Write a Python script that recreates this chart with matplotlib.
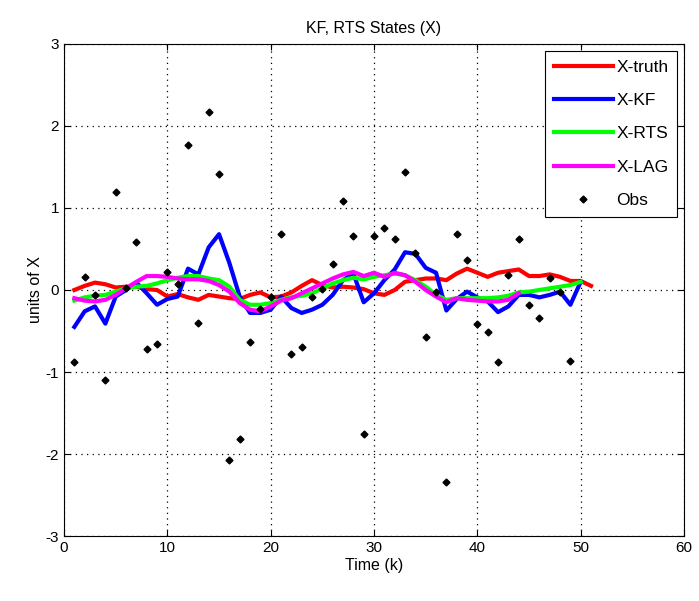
import matplotlib

matplotlib.use("Agg")
import matplotlib.pyplot as plt

plt.rcParams["font.family"] = ["Liberation Sans", "DejaVu Sans"]
plt.rcParams["axes.unicode_minus"] = False

# smoother outputs, one value per time step k = 1, 2, ...
x_truth = [0.00, 0.05, 0.09, 0.07, 0.03, 0.04, 0.04, 0.01, 0.00, -0.08,
           -0.05, -0.09, -0.12, -0.06, -0.08, -0.10, -0.11, -0.06, -0.03, -0.09,
           -0.08, -0.03, 0.05, 0.12, 0.06, 0.03, 0.04, 0.03, 0.01, -0.04,
           -0.06, 0.00, 0.10, 0.12, 0.14, 0.14, 0.12, 0.20, 0.26, 0.21,
           0.16, 0.21, 0.23, 0.25, 0.17, 0.17, 0.19, 0.16, 0.11, 0.11, 0.05]
x_kf = [-0.45, -0.26, -0.20, -0.41, -0.08, 0.00, 0.09, -0.04, -0.18, -0.11,
        -0.08, 0.26, 0.19, 0.52, 0.68, 0.33, -0.08, -0.28, -0.28, -0.24,
        -0.08, -0.22, -0.28, -0.24, -0.18, -0.06, 0.12, 0.20, -0.15, -0.04,
        0.12, 0.25, 0.46, 0.44, 0.27, 0.21, -0.25, -0.11, -0.02, -0.09,
        -0.14, -0.27, -0.20, -0.06, -0.06, -0.09, -0.06, -0.02, -0.18, 0.10]
x_rts = [-0.13, -0.09, -0.07, -0.06, -0.02, 0.02, 0.04, 0.05, 0.08, 0.12,
         0.15, 0.17, 0.17, 0.14, 0.12, 0.04, -0.12, -0.18, -0.18, -0.16,
         -0.12, -0.09, -0.07, -0.04, 0.02, 0.08, 0.12, 0.15, 0.13, 0.16,
         0.18, 0.20, 0.18, 0.12, 0.04, -0.06, -0.12, -0.10, -0.10, -0.10,
         -0.10, -0.09, -0.07, -0.03, -0.02, 0.00, 0.02, 0.04, 0.06, 0.10]
x_lag = [-0.10, -0.13, -0.14, -0.12, -0.06, 0.02, 0.10, 0.17, 0.17, 0.16,
         0.14, 0.13, 0.13, 0.11, 0.06, -0.02, -0.16, -0.24, -0.26, -0.20,
         -0.13, -0.10, -0.04, 0.02, 0.08, 0.14, 0.19, 0.22, 0.17, 0.21,
         0.16, 0.21, 0.18, 0.10, 0.00, -0.08, -0.15, -0.10, -0.12, -0.13,
         -0.14, -0.14, -0.12, -0.04]
obs = [-0.88, 0.16, -0.06, -1.10, 1.20, 0.03, 0.59, -0.72, -0.66, 0.22,
       0.07, 1.77, -0.40, 2.17, 1.41, -2.07, -1.82, -0.63, -0.23, -0.09,
       0.68, -0.78, -0.70, -0.09, 0.01, 0.32, 1.09, 0.66, -1.75, 0.66,
       0.75, 0.62, 1.44, 0.45, -0.57, -0.02, -2.34, 0.68, 0.37, -0.41,
       -0.51, -0.88, 0.18, 0.62, -0.18, -0.34, 0.15, -0.02, -0.86]


def steps(vals):
    return list(range(1, len(vals) + 1))


fig = plt.figure(figsize=(6.99, 6.01), dpi=100)
ax = fig.add_axes([0.0916, 0.108, 0.887, 0.819])

ax.plot(steps(x_truth), x_truth, color="#ff0000", lw=3, label="X-truth")
ax.plot(steps(x_kf), x_kf, color="#0000ff", lw=3, label="X-KF")
ax.plot(steps(x_rts), x_rts, color="#00ff00", lw=3, label="X-RTS")
ax.plot(steps(x_lag), x_lag, color="#ff00ff", lw=3, label="X-LAG")
ax.plot(steps(obs), obs, "kD", ms=3.5, label="Obs")

ax.set_xlim(0, 60)
ax.set_ylim(-3, 3)
ax.set_xticks(range(0, 61, 10))
ax.set_yticks(range(-3, 4))
ax.grid(True, color="black", linestyle=(0, (1, 3.5)), linewidth=0.9)
ax.tick_params(direction="in", top=True, right=True, labelsize=11, length=4)
for s in ax.spines.values():
    s.set_linewidth(0.8)

ax.set_title("KF, RTS States (X)", fontsize=11.5, pad=8)
ax.set_xlabel("Time (k)", fontsize=11.5, labelpad=2)
ax.set_ylabel("units of X", fontsize=11.5, labelpad=2)

leg = ax.legend(loc="upper right", fontsize=12.5, handlelength=3.4,
                labelspacing=1.05, borderaxespad=0.4, fancybox=False,
                framealpha=1, edgecolor="black", handletextpad=0.2,
                borderpad=0.5)
leg.get_frame().set_linewidth(0.8)

fig.savefig("out.png", dpi=100)
